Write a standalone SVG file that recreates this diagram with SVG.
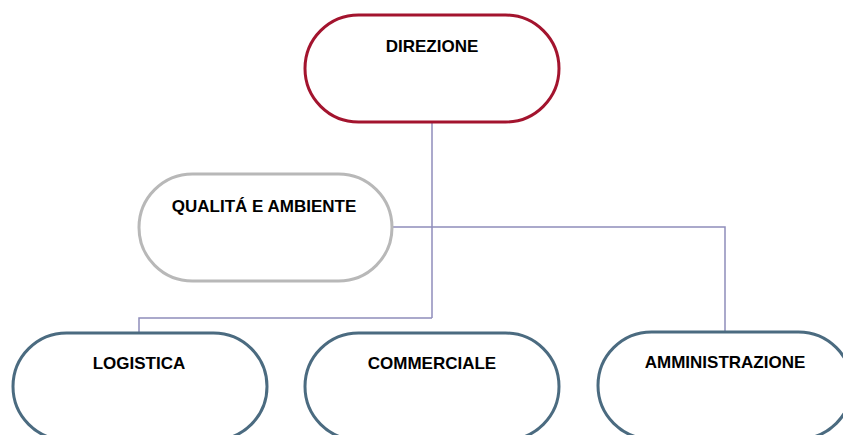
<svg xmlns="http://www.w3.org/2000/svg" width="843" height="435" viewBox="0 0 843 435">
<style>
.node{fill:#fff;stroke-width:3}
.red{stroke:#a3142e}
.gray{stroke:#b8b8b8}
.blue{stroke:#4b6b80}
.lbl{font-family:"Liberation Sans",Arial,sans-serif;font-weight:bold;font-size:17px;fill:#000;text-anchor:middle}
.conn{fill:none;stroke:#8f8dbb;stroke-width:1.5}
</style>
<rect width="843" height="435" fill="#fff"/>
<g id="connectors">
<path class="conn" d="M432 122V318"/>
<path class="conn" d="M392 227H725V332"/>
<path class="conn" d="M432 318H139V333"/>
</g>
<g id="direzione">
<rect class="node red" x="305" y="15" width="254" height="107" rx="53.5"/>
<text class="lbl" x="432" y="52">DIREZIONE</text>
</g>
<g id="qualita">
<rect class="node gray" x="139" y="174" width="253" height="107" rx="53.5"/>
<text class="lbl" x="264" y="212">QUALITÁ E AMBIENTE</text>
</g>
<g id="logistica">
<rect class="node blue" x="13" y="333" width="254" height="107" rx="53.5"/>
<text class="lbl" x="139" y="369">LOGISTICA</text>
</g>
<g id="commerciale">
<rect class="node blue" x="305" y="333" width="254" height="107" rx="53.5"/>
<text class="lbl" x="432" y="369">COMMERCIALE</text>
</g>
<g id="amministrazione">
<rect class="node blue" x="598" y="332" width="254" height="107" rx="53.5"/>
<text class="lbl" x="725" y="368">AMMINISTRAZIONE</text>
</g>
</svg>
